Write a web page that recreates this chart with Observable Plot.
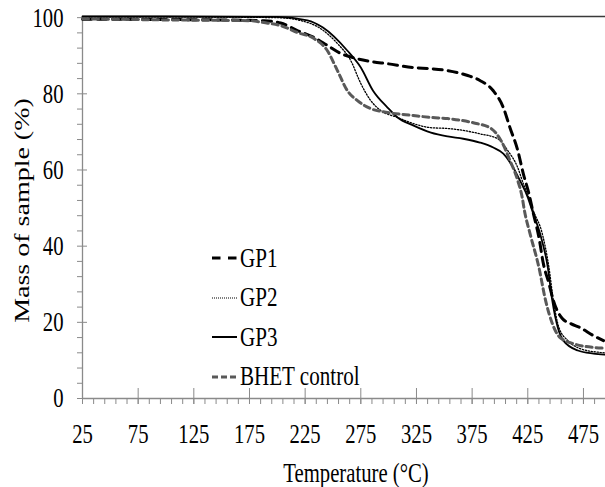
<!DOCTYPE html>
<html><head><meta charset="utf-8">
<script src="https://cdn.jsdelivr.net/npm/d3@7"></script>
<script src="https://cdn.jsdelivr.net/npm/@observablehq/plot@0.6"></script>
<style>
body{margin:0;background:#fff;}
#wrap{position:relative;width:605px;height:487px;overflow:hidden;}
.row{position:absolute;left:212px;height:30px;display:flex;align-items:center;white-space:nowrap;}
.row span{font-family:"Liberation Serif",serif;font-size:27px;color:#000;display:inline-block;transform:scaleX(0.78);transform-origin:left center;margin-left:2px;}
</style></head><body><div id="wrap"></div>
<script>
// ---- data ----
const seriesNames = ["GP1", "GP2", "GP3", "BHET control"];
const gp1Temp = [25, 100, 150, 188, 203, 218, 233, 245, 257, 268, 284, 299, 322, 338, 353, 371, 382, 394, 403, 409, 416, 421, 426, 430, 435, 439, 444, 448, 456, 464, 472, 484, 493];
const gp1Mass = [99.6, 99.5, 99.4, 99.2, 98.6, 96.6, 94.8, 92.7, 90.6, 89.5, 88.5, 87.9, 86.9, 86.6, 86.1, 84.8, 83.5, 80.8, 76.4, 71.1, 65.1, 59, 53.8, 48.6, 42.3, 35.4, 30.2, 25.7, 21, 19.6, 18.6, 16.5, 15.2];
const gp2Temp = [25, 100, 200, 220, 239, 254, 266, 275, 284, 293, 308, 322, 338, 353, 382, 398, 407, 416, 421, 426, 430, 438, 444, 448, 453, 461, 472, 490, 494];
const gp2Mass = [100.2, 100.2, 100, 99.3, 97.1, 93.2, 88.7, 82.7, 78.2, 75.6, 73.8, 72.2, 71.1, 70.9, 69.5, 68.2, 65.1, 60.6, 56.4, 52.8, 49.3, 43.3, 34.4, 25.7, 18.6, 15.2, 13.1, 12.1, 12.0];
const gp3Temp = [25, 100, 200, 227, 241, 263, 275, 286, 299, 308, 322, 338, 353, 367, 382, 394, 403, 412, 418, 425, 429, 436, 443, 447, 452, 457, 470, 484, 494];
const gp3Mass = [100.3, 100.3, 100.2, 99.3, 97.4, 91.3, 86.9, 80.8, 76.4, 73.8, 71.7, 69.8, 68.8, 68.2, 67.2, 65.9, 64.3, 60.6, 57.2, 52.8, 49.3, 43.3, 34.4, 25.7, 18.6, 15.2, 12.6, 11.8, 11.5];
const bhetTemp = [25, 100, 175, 188, 203, 218, 233, 245, 254, 263, 272, 284, 299, 322, 338, 353, 376, 392, 401, 409, 416, 420, 422, 427, 435, 441, 447, 454, 466, 484, 494];
const bhetMass = [99.7, 99.4, 99.2, 98.7, 97.9, 96.1, 94.5, 91.3, 86.1, 80.8, 78.2, 76.1, 75.1, 74.3, 73.8, 73.5, 72.4, 70.9, 67.7, 62.5, 57.2, 52.8, 49.3, 43.3, 34.4, 25.7, 19.7, 16, 14.4, 13.4, 13.2];
const xMajorTicks = [25, 75, 125, 175, 225, 275, 325, 375, 425, 475];
const xMinorTicks = d3.range(35, 495, 10);
const yMajorTicks = [0, 20, 40, 60, 80, 100];
const yMinorTicks = d3.range(4, 100, 4).filter(v => v % 20 !== 0);
const xTitle = "Temperature (°C)";
const yTitle = "Mass of sample (%)";

// ---- styles ----
const styles = {
  "GP1": {stroke: "#000", strokeWidth: 3, strokeDasharray: "9,6"},
  "GP2": {stroke: "#000", strokeWidth: 1.3, strokeDasharray: "1.3,1.7"},
  "GP3": {stroke: "#000", strokeWidth: 1.8, strokeDasharray: null},
  "BHET control": {stroke: "#595959", strokeWidth: 3, strokeDasharray: "6,4"}
};
const legendStyles = {
  "GP1": {stroke: "#000", w: 3, dash: "8.5,7.5"},
  "GP2": {stroke: "#000", w: 1, dash: "1,1"},
  "GP3": {stroke: "#000", w: 2, dash: ""},
  "BHET control": {stroke: "#595959", w: 3, dash: "6,3"}
};
const axisGray = "#8a8a8a";

const temps = [gp1Temp, gp2Temp, gp3Temp, bhetTemp];
const masses = [gp1Mass, gp2Mass, gp3Mass, bhetMass];
const rows = seriesNames.flatMap((s, k) => temps[k].map((t, i) => ({series: s, temp: t, mass: masses[k][i]})));
const yMax = 100.3;

const lineMarks = seriesNames.map(s => Plot.line(rows.filter(r => r.series === s), {
  x: "temp", y: "mass", curve: "monotone-x",
  stroke: styles[s].stroke, strokeWidth: styles[s].strokeWidth, strokeDasharray: styles[s].strokeDasharray
}));

const chart = Plot.plot({
  width: 605, height: 487,
  marginLeft: 82, marginRight: 0, marginTop: 16, marginBottom: 89,
  x: {domain: [25, 494.8]},
  y: {domain: [0, yMax]},
  style: {fontFamily: "Liberation Serif", background: "white", color: "#000"},
  marks: [
    Plot.ruleY([yMax], {stroke: "#3a3a3a", strokeWidth: 1.3}),
    Plot.axisY({ticks: yMinorTicks, tickSize: 5, tickFormat: () => "", label: null, stroke: axisGray}),
    Plot.axisY({ticks: yMajorTicks, tickSize: 10, dx: 5, tickFormat: () => "", label: null, stroke: axisGray}),
    Plot.axisY({ticks: yMajorTicks, tickSize: 0, tickPadding: 19, fontSize: 28, label: null, fill: "#000"}),
    Plot.axisX({ticks: xMinorTicks, tickSize: 6, tickFormat: () => "", label: null, stroke: axisGray}),
    Plot.axisX({ticks: xMajorTicks, tickSize: 16, dy: -10, tickFormat: () => "", label: null, stroke: axisGray}),
    Plot.axisX({ticks: xMajorTicks, tickSize: 0, tickPadding: 25, fontSize: 28, label: null, fill: "#000"}),
    Plot.ruleX([25], {stroke: axisGray, strokeWidth: 1.3}),
    Plot.ruleY([0], {stroke: axisGray, strokeWidth: 1.3}),
    ...lineMarks,
    Plot.text([xTitle], {frameAnchor: "bottom", textAnchor: "middle", lineAnchor: "middle", dy: 75, dx: 12, fontSize: 28, fill: "#000"}),
    Plot.text([yTitle], {frameAnchor: "left", textAnchor: "middle", lineAnchor: "middle", dx: -60, dy: 3, rotate: -90, fontSize: 28, fill: "#000"})
  ]
});

// condense serif text horizontally (reference text is vertically stretched)
chart.querySelectorAll("text").forEach(t => {
  const tr = t.getAttribute("transform") || "";
  t.setAttribute("transform", tr + (tr.includes("rotate") ? " scale(1,0.76)" : " scale(0.74,1)"));
});

const wrap = document.getElementById("wrap");
wrap.appendChild(chart);

// legend overlay
const legendRowY = [258, 297.5, 337, 376.5];
seriesNames.forEach((s, i) => {
  const st = legendStyles[s];
  const row = document.createElement("div");
  row.className = "row";
  row.style.top = (legendRowY[i] - 15) + "px";
  row.innerHTML = `<svg width="26" height="30"><line x1="0" x2="25" y1="15" y2="15" stroke="${st.stroke}" stroke-width="${st.w}" ${st.dash ? `stroke-dasharray="${st.dash}"` : ""}/></svg><span>${s}</span>`;
  wrap.appendChild(row);
});
</script>
</body></html>
